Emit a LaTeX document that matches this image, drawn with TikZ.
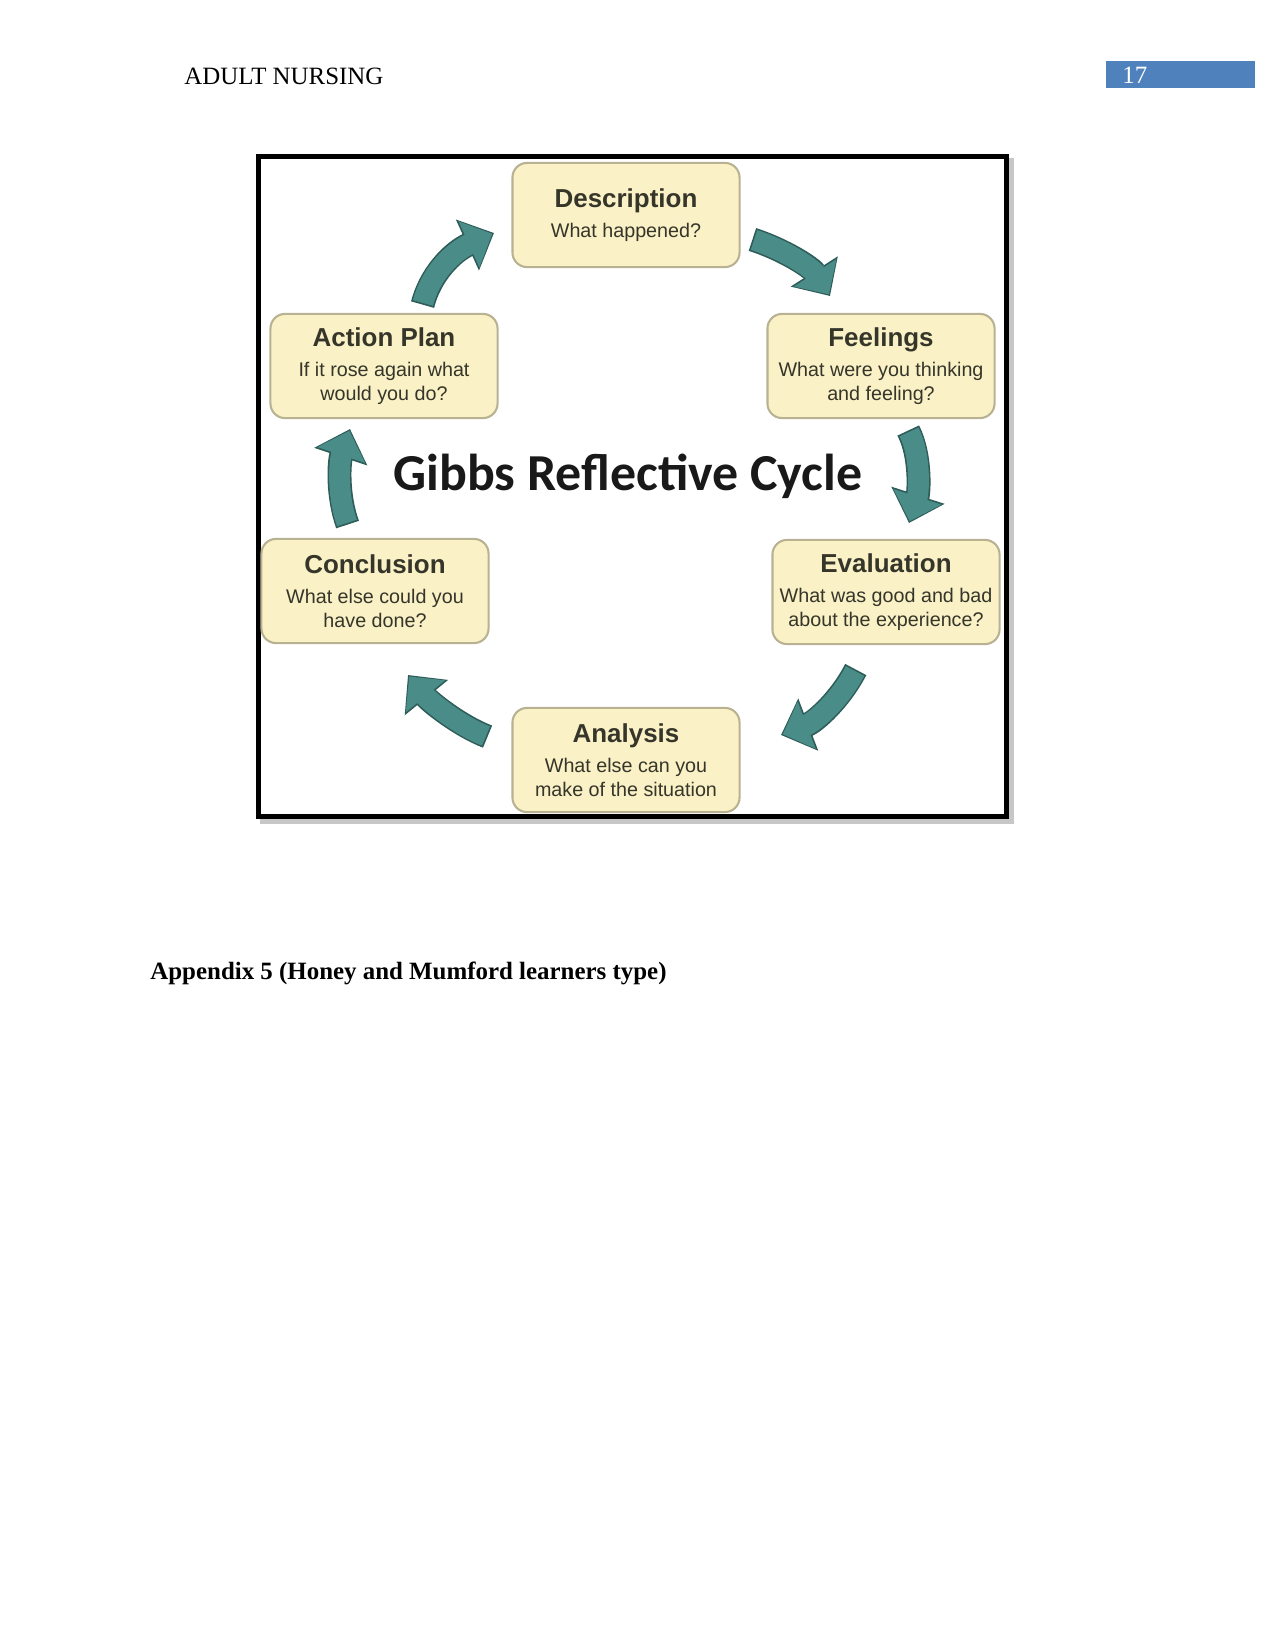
\documentclass[tikz,border=0pt]{standalone}
\usepackage{fontspec}
\setmainfont{Liberation Serif}
\newfontfamily\boxfont{Liberation Sans}
\newfontfamily\gibbsfont{Carlito}
\usetikzlibrary{arrows.meta}
\definecolor{boxfill}{HTML}{FAF1C6}
\definecolor{boxline}{HTML}{B8B292}
\definecolor{boxtext}{HTML}{35352A}
\definecolor{arrowin}{HTML}{4A8C87}
\definecolor{arrowout}{HTML}{2E5C59}
\definecolor{hdrblue}{HTML}{4F81BD}
\newcommand\gibbsarrow[1]{%
  \draw[cycout] #1;
  \draw[cycin] #1;}
\newcommand\gtitle[1]{{\fontsize{12.5}{15}\selectfont\bfseries #1}}
\begin{document}
\begin{tikzpicture}[x=0.48bp,y=-0.48bp,
  pagetext/.style={inner sep=0pt, font=\fontsize{12}{14}\selectfont},
  gbox/.style={draw=boxline, fill=boxfill, line width=1bp, rounded corners=7bp,
    minimum width=109bp, minimum height=50bp, inner sep=0pt, align=center,
    text=boxtext, font=\boxfont\fontsize{9.5}{11.5}\selectfont},
  cycout/.style={draw=arrowout, line width=11.5bp, shorten <=-0.8bp,
    -{Triangle[width=26bp,length=14bp]}},
  cycin/.style={draw=arrowin, line width=10bp, shorten >=0.9bp,
    -{Triangle[width=23.5bp,length=12.3bp]}}]
\fill[white] (0,0) rectangle (1275,1650);
\useasboundingbox (0,0) rectangle (1275,1650);
% header
\node[pagetext, anchor=base west] (hdr) at (184,84) {ADULT NURSING};
\fill[hdrblue] (1106,61) rectangle (1255,88);
\node[pagetext, anchor=base west, text=white] (pg) at (1122,83) {17};
% frame with shadow
\draw[black!22, line width=2.4bp] (262,160) rectangle (1011,821);
\fill[white] (258.5,156.5) rectangle (1006.5,816.5);
\draw[black, line width=2.4bp] (258.5,156.5) rectangle (1006.5,816.5);
% boxes
\node[gbox] (desc) at (626,215) {\gtitle{Description}\\[3bp]What happened?};
\node[gbox] (feel) at (881,366) {\gtitle{Feelings}\\[3bp]What were you thinking\\and feeling?};
\node[gbox] (eval) at (886,592) {\gtitle{Evaluation}\\[3bp]What was good and bad\\about the experience?};
\node[gbox] (anal) at (626,760) {\gtitle{Analysis}\\[3bp]What else can you\\make of the situation};
\node[gbox] (conc) at (375,591) {\gtitle{Conclusion}\\[3bp]What else could you\\have done?};
\node[gbox] (act) at (384,366) {\gtitle{Action Plan}\\[3bp]If it rose again what\\would you do?};
% title
\node[inner sep=0pt, anchor=base, font=\gibbsfont\bfseries\fontsize{25}{30}\selectfont, text=black!90] (ttl) at (628,490) {Gibbs Reflective Cycle};
% arrow end points
\coordinate (a1s) at (423,303);
\coordinate (a1e) at (494,233);
\coordinate (a2s) at (754,240);
\coordinate (a2e) at (830,296);
\coordinate (a3s) at (909,432);
\coordinate (a3e) at (909,523);
\coordinate (a4s) at (855,671);
\coordinate (a4e) at (781,735);
\coordinate (a5s) at (486,736);
\coordinate (a5e) at (408,675);
\coordinate (a6s) at (347,523);
\coordinate (a6e) at (350,429);
\gibbsarrow{(a1s) .. controls (430,275) and (452,252) .. (a1e)}
\gibbsarrow{(a2s) .. controls (785,250) and (812,268) .. (a2e)}
\gibbsarrow{(a3s) .. controls (921,455) and (919,492) .. (a3e)}
\gibbsarrow{(a4s) .. controls (840,700) and (815,722) .. (a4e)}
\gibbsarrow{(a5s) .. controls (460,726) and (430,702) .. (a5e)}
\gibbsarrow{(a6s) .. controls (337,495) and (339,462) .. (a6e)}
% appendix line
\node[pagetext, anchor=base west, font=\bfseries\fontsize{12}{14}\selectfont] (app) at (150,979) {Appendix 5 (Honey and Mumford learners type)};
\end{tikzpicture}
\end{document}
